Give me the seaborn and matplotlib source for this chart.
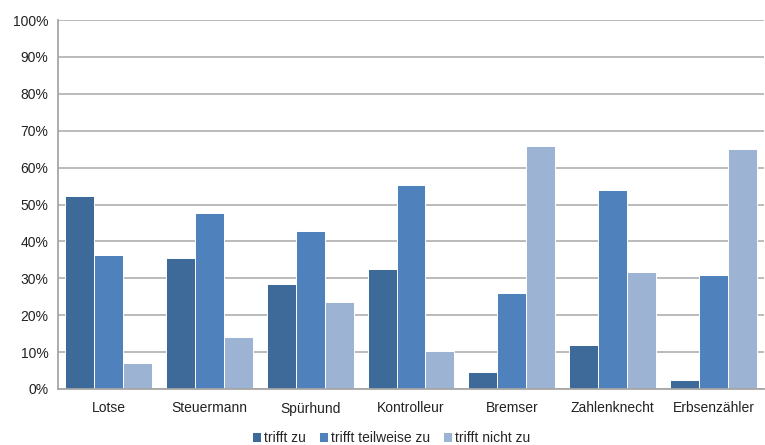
import pandas as pd
import numpy as np
import matplotlib
matplotlib.use("Agg")
import matplotlib.pyplot as plt
import seaborn as sns
from matplotlib.ticker import FuncFormatter

# Werte (in %)
berufe = ['Lotse', 'Steuermann', 'Spürhund', 'Kontrolleur', 'Bremser', 'Zahlenknecht', 'Erbsenzähler']
trifft_zu = [52.2, 35.6, 28.5, 32.4, 4.7, 11.8, 2.4]
trifft_teilweise = [36.4, 47.6, 42.8, 55.4, 26.1, 53.9, 30.8]
trifft_nicht = [7.1, 14.1, 23.6, 10.2, 65.8, 31.6, 65.0]
antworten = ['trifft zu', 'trifft teilweise zu', 'trifft nicht zu']
farben = ['#3D6A99', '#4F81BD', '#9DB3D4']

df = pd.DataFrame({
    'Beruf': berufe * 3,
    'Antwort': [antworten[0]] * 7 + [antworten[1]] * 7 + [antworten[2]] * 7,
    'Wert': trifft_zu + trifft_teilweise + trifft_nicht,
})

sns.set_style('white')
plt.rcParams['font.family'] = ['Liberation Sans', 'DejaVu Sans']

fig = plt.figure(figsize=(7.65, 4.45), dpi=100)
ax = fig.add_axes([58 / 765, 1 - 389 / 445, (765 - 59) / 765, (389 - 20) / 445])

sns.barplot(data=df, x='Beruf', y='Wert', hue='Antwort', palette=farben, saturation=1,
            width=0.86, gap=0, edgecolor='white', linewidth=0.7, ax=ax)

ax.set_ylim(0, 100)
ax.set_xlim(-0.5, len(berufe) - 0.5)
ax.set_yticks(np.arange(0, 101, 10))
ax.yaxis.set_major_formatter(FuncFormatter(lambda v, p: f'{int(v)}%'))
ax.grid(axis='y', color='#a8a8a8', linewidth=1.1)
ax.set_axisbelow(True)
ax.set_xlabel('')
ax.set_ylabel('')

for s in ['top', 'right']:
    ax.spines[s].set_visible(False)
for s in ['left', 'bottom']:
    ax.spines[s].set_color('#a6a6a6')
    ax.spines[s].set_linewidth(1.3)

ax.tick_params(axis='x', which='major', length=0, pad=9, labelsize=10, labelcolor='#222222')
ax.set_xticks(np.arange(-0.5, len(berufe)), minor=True)
ax.tick_params(axis='x', which='minor', length=4, color='#a6a6a6', width=1, direction='out')
ax.tick_params(axis='y', length=4, color='#a6a6a6', width=1, direction='out',
               labelsize=10, labelcolor='#222222', pad=3)

leg = ax.legend(loc='lower center', bbox_to_anchor=(0.5 - 20 / 706, -0.185), ncol=3,
                frameon=False, fontsize=10, handlelength=0.7, handleheight=0.7,
                handletextpad=0.2, columnspacing=0.9)

fig.savefig('out.png', dpi=100)
